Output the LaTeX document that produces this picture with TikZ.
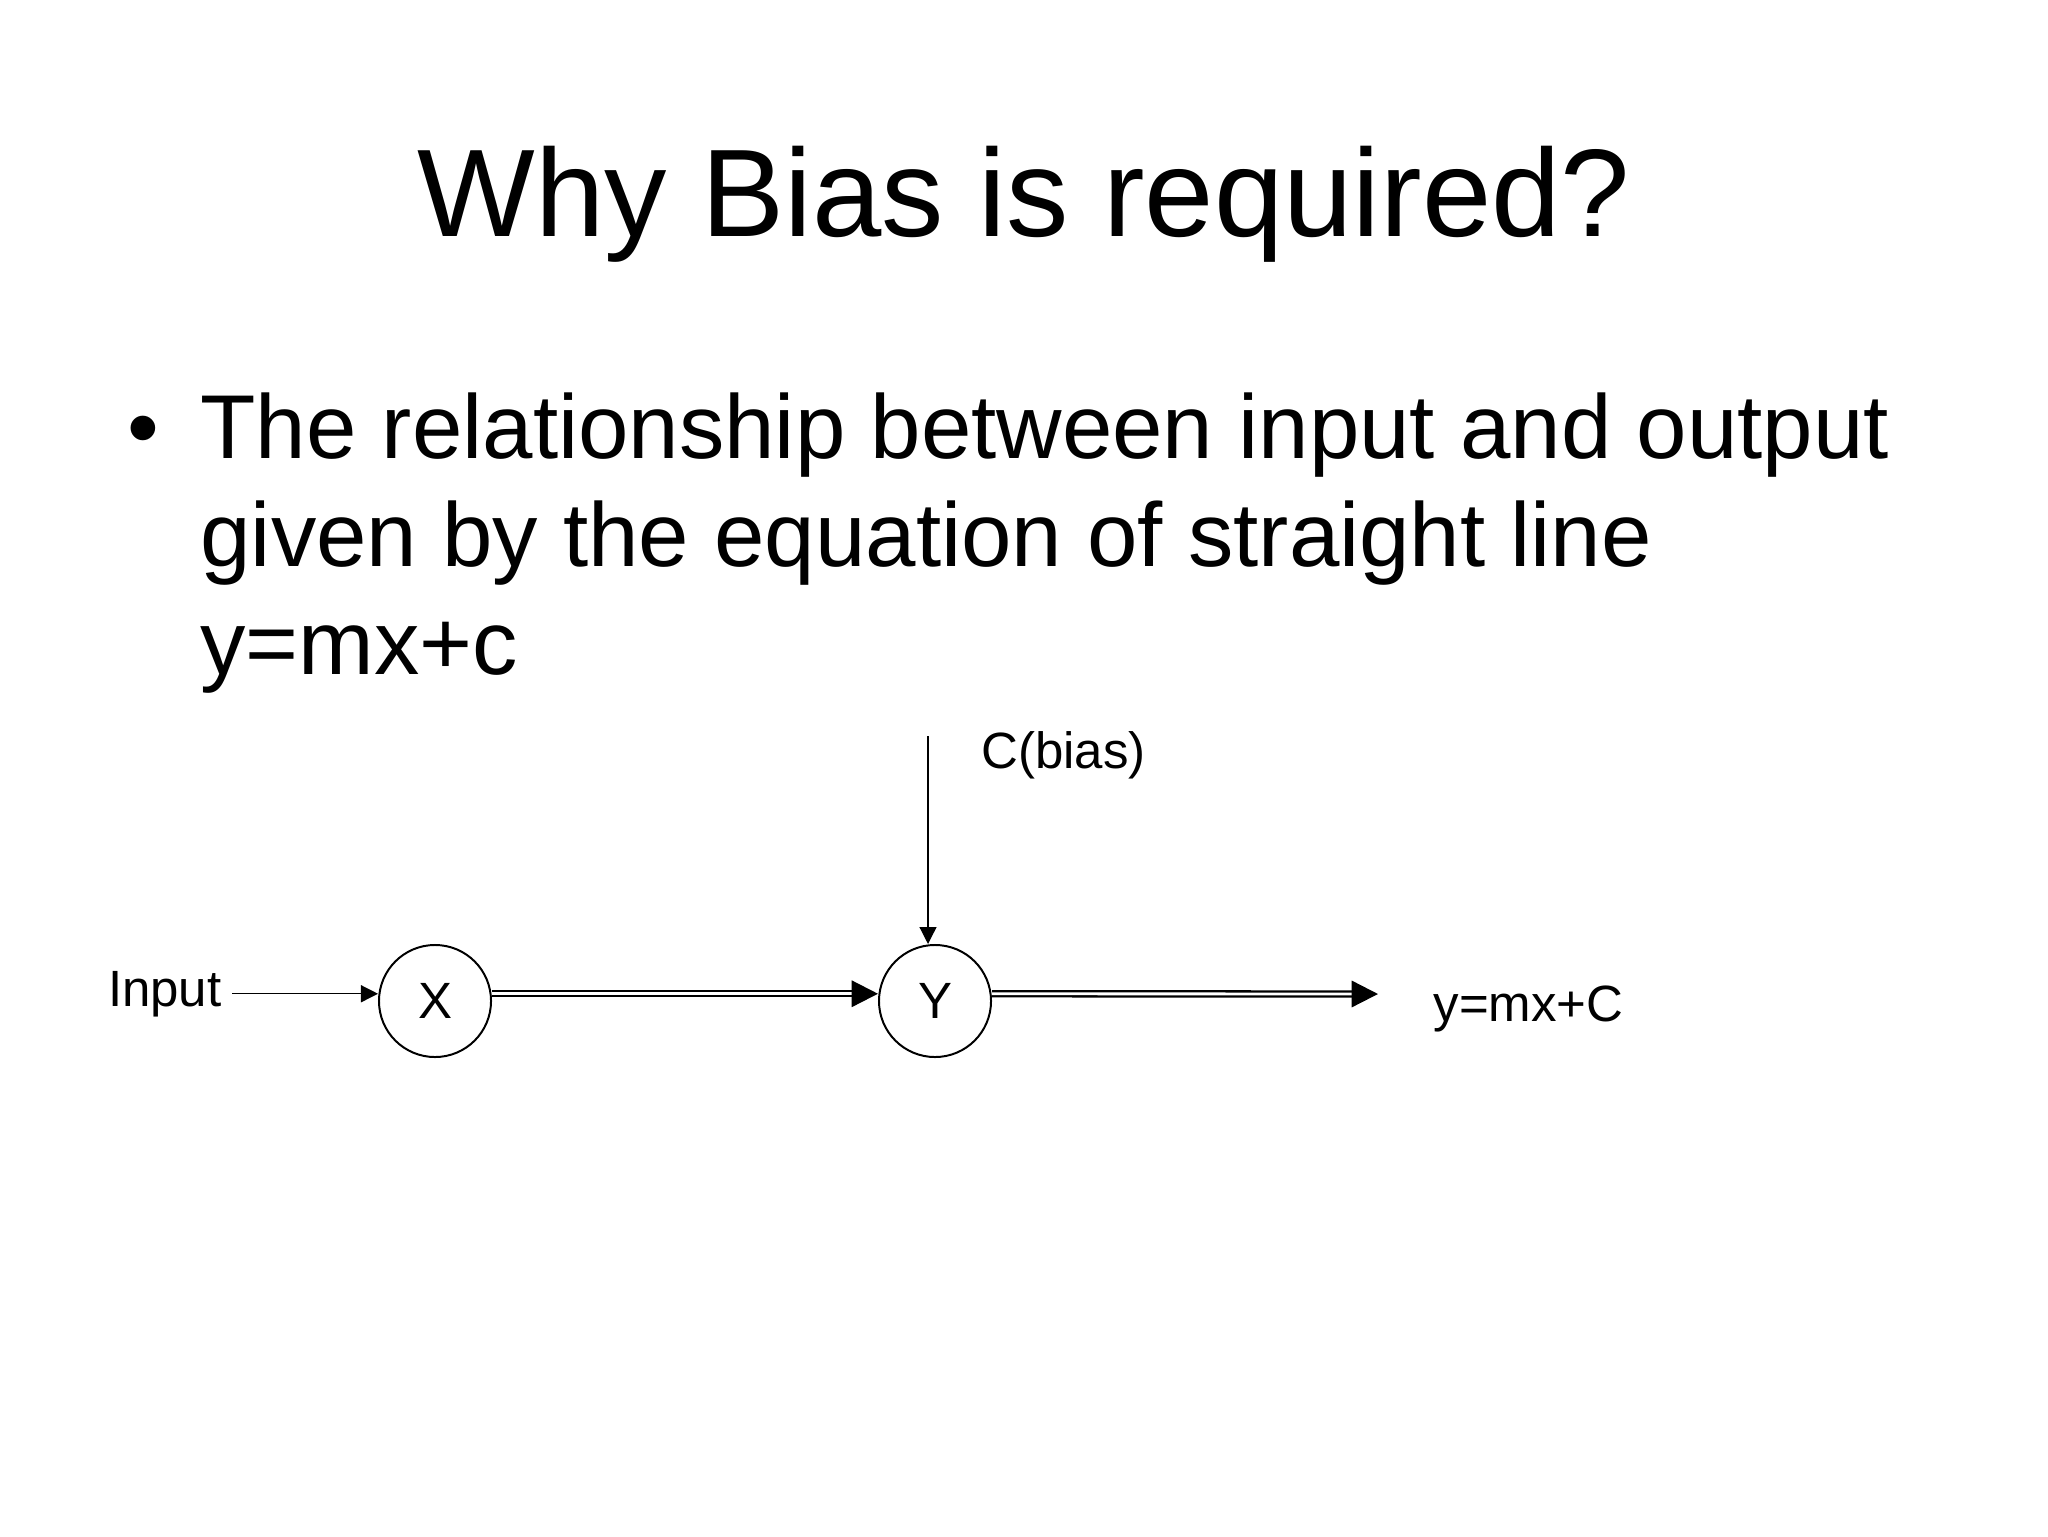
\documentclass[tikz,border=0pt]{standalone}
\usepackage{fontspec}
\setmainfont{Liberation Sans}
\usetikzlibrary{arrows.meta}
\newcommand{\slidetext}{\fontsize{18}{21.6}\selectfont}

\begin{document}
\begin{tikzpicture}[x=0.0124023cm, y=-0.0124023cm,
		neuron/.style = {draw, circle, line width = 0.7pt, minimum size = 1.39cm, inner sep = 0pt, font = \slidetext},
		label/.style = {inner sep = 3.5pt, font = \slidetext},
		thin arrow/.style = {line width = 0.45pt, -{Triangle[length = 6pt, width = 6pt]}},
		double arrow/.style = {double, double distance = 1pt, line width = 0.8pt, -{Triangle[length = 9.3pt, width = 9.3pt]}}]
			\useasboundingbox (0, 0) rectangle (2048, 1536);
			% Part for the title and the bullet
			\node[anchor = base] (title) at (1024, 236) {\fontsize{44}{52.8}\selectfont Why Bias is required?};
			\node[anchor = base east, inner sep = 0pt] (bullet) at (160, 458) {\fontsize{32}{38}\selectfont\textbullet};
			\node[anchor = base west, inner sep = 0pt] (line1) at (200, 458) {\fontsize{32}{38}\selectfont The relationship between input and output};
			\node[anchor = base west, inner sep = 0pt] (line2) at (200, 566) {\fontsize{32}{38}\selectfont given by the equation of straight line};
			\node[anchor = base west, inner sep = 0pt] (line3) at (200, 674) {\fontsize{32}{38}\selectfont y=mx+c};
			% Part for the diagram
			\node[neuron] (x) at (435, 1001) {X};
			\node[neuron] (y) at (935, 1001) {Y};
			\node[label, anchor = base east] (input) at (232, 1006) {Input};
			\node[label, anchor = base west] (bias) at (971, 768) {C(bias)};
			\node[label, anchor = base west] (output) at (1423, 1021) {y=mx+C};
			\coordinate (biastop) at (928, 736);
			\coordinate (outend) at (1378, 994);
			% connectors
			\draw[thin arrow] (input.east) -- (input.east -| x.west);
			\draw[thin arrow] (biastop) -- (biastop |- y.north);
			\draw[double arrow] (x.east |- input.east) -- (y.west |- input.east);
			\draw[double arrow] (y.east |- input.east) -- (outend);
		\end{tikzpicture}
\end{document}
